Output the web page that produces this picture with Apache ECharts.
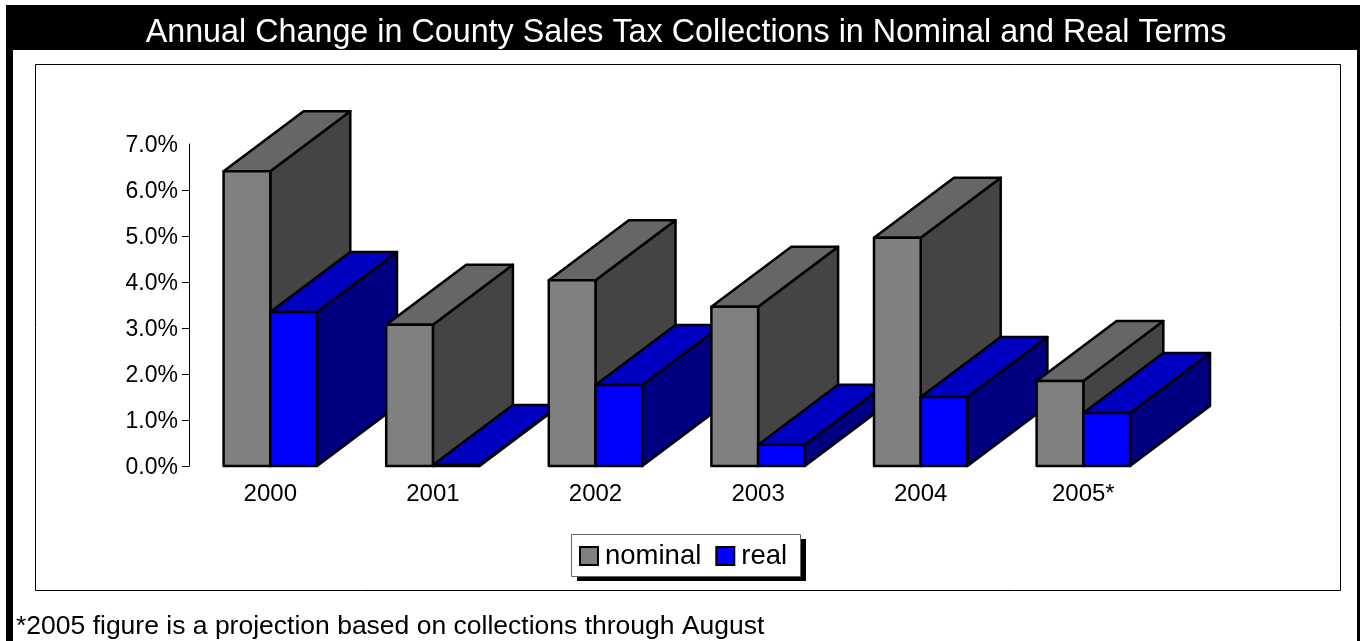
<!DOCTYPE html>
<html>
<head>
<meta charset="utf-8">
<style>html,body{margin:0;padding:0;background:#fff}#c{width:1360px;height:641px}</style>
<script src="https://cdn.jsdelivr.net/npm/echarts@6/dist/echarts.min.js"></script>
</head>
<body>
<div id="c"></div>
<script>
// County sales tax growth, percent per year
const years = ['2000', '2001', '2002', '2003', '2004', '2005*'];
const nominal = [6.41, 3.07, 4.04, 3.46, 4.96, 1.85];
const real = [3.35, 0.02, 1.76, 0.46, 1.50, 1.15];
const yTicks = [0, 1, 2, 3, 4, 5, 6];

const FONT = '"Liberation Sans", Arial, sans-serif';
const DEPTH_X = 80, DEPTH_Y = 60, BAR_RATIO = 46.7 / 162.6;

const palettes = [
  { front: '#808080', top: '#666666', side: '#444444' },
  { front: '#0000ff', top: '#0000c0', side: '#000080' }
];

// Extruded bar: front, top and side faces, layered so later years sit in front
function extrudedBar(seriesIdx) {
  return function (params, api) {
    const i = api.value(0);
    const base = api.coord([i, 0]);
    const top = api.coord([i, api.value(1)]);
    const w = api.size([1, 0])[0] * BAR_RATIO;
    const x0 = base[0] + (seriesIdx === 0 ? -w : 0);
    const x1 = x0 + w;
    const yb = base[1], yt = top[1];
    const p = palettes[seriesIdx];
    const line = { stroke: '#000', lineWidth: 2.5, lineJoin: 'round' };
    const z = i * 4 + seriesIdx * 2;
    const face = (pts, fill, dz) => ({
      type: 'polygon', z2: z + dz,
      shape: { points: pts },
      style: Object.assign({ fill: fill }, line)
    });
    return {
      type: 'group',
      children: [
        face([[x1, yb], [x1 + DEPTH_X, yb - DEPTH_Y], [x1 + DEPTH_X, yt - DEPTH_Y], [x1, yt]], p.side, 0),
        face([[x0, yt], [x0 + DEPTH_X, yt - DEPTH_Y], [x1 + DEPTH_X, yt - DEPTH_Y], [x1, yt]], p.top, 0),
        face([[x0, yb], [x1, yb], [x1, yt], [x0, yt]], p.front, 1)
      ]
    };
  };
}

function barSeries(name, values, idx) {
  return {
    name: name,
    type: 'custom',
    coordinateSystem: 'cartesian2d',
    clip: false,
    renderItem: extrudedBar(idx),
    encode: { x: 0, y: 1 },
    itemStyle: { color: palettes[idx].front },
    data: values.map((v, i) => [i, v])
  };
}

const chart = echarts.init(document.getElementById('c'), null, { renderer: 'canvas' });
chart.setOption({
  animation: false,
  backgroundColor: '#fff',
  title: [
    {
      text: 'Annual Change in County Sales Tax Collections in Nominal and Real Terms',
      left: 686, top: 17, padding: 0, textAlign: 'center',
      textStyle: { color: '#fff', fontFamily: FONT, fontWeight: 'normal', fontSize: 32.3 }
    },
    {
      text: '*2005 figure is a projection based on collections through August',
      left: 16, top: 613, padding: 0,
      textStyle: { color: '#000', fontFamily: FONT, fontWeight: 'normal', fontSize: 26.5 }
    }
  ],
  graphic: [
    // page frame with its title band
    { type: 'rect', z: -5, silent: true, shape: { x: 6, y: 5, width: 1354, height: 636 }, style: { fill: '#000' } },
    { type: 'rect', z: -4, silent: true, shape: { x: 13, y: 50, width: 1344, height: 591 }, style: { fill: '#fff' } },
    // plot panel
    { type: 'rect', z: -3, silent: true, shape: { x: 35.5, y: 64.5, width: 1305, height: 526 }, style: { fill: '#fff', stroke: '#000', lineWidth: 1 } },
    // legend box and its drop shadow
    { type: 'rect', z: -2, silent: true, shape: { x: 577, y: 539, width: 229, height: 42 }, style: { fill: '#000' } },
    { type: 'rect', z: -1, silent: true, shape: { x: 571.5, y: 534.5, width: 229, height: 42 }, style: { fill: '#fff', stroke: '#666', lineWidth: 1 } }
  ],
  grid: { left: 189, top: 144, width: 975.6, height: 322 },
  xAxis: {
    type: 'category',
    data: years,
    axisLine: { show: false },
    axisTick: { show: false },
    axisLabel: { color: '#000', fontFamily: FONT, fontSize: 24, margin: 16 }
  },
  yAxis: {
    type: 'value',
    min: 0, max: 7, interval: 1,
    splitLine: { show: false },
    axisLine: { show: true, lineStyle: { color: '#000', width: 1 } },
    axisTick: { show: true, length: 7, lineStyle: { color: '#000', width: 1 }, customValues: yTicks },
    axisLabel: {
      color: '#000', fontFamily: FONT, fontSize: 23, margin: 11,
      formatter: v => '{t|' + v.toFixed(1) + '%}',
      rich: { t: { fontFamily: FONT, fontSize: 23, color: '#000', padding: [4, 0, 0, 0] } }
    }
  },
  legend: {
    left: 579, top: 542,
    padding: 0,
    itemGap: 14,
    itemWidth: 18, itemHeight: 18,
    icon: 'rect',
    itemStyle: { borderColor: '#000', borderWidth: 2 },
    textStyle: { color: '#000', fontFamily: FONT, fontSize: 27.5, padding: [0, 0, 0, 2] },
    data: ['nominal', 'real']
  },
  series: [barSeries('nominal', nominal, 0), barSeries('real', real, 1)]
});
</script>
</body>
</html>
